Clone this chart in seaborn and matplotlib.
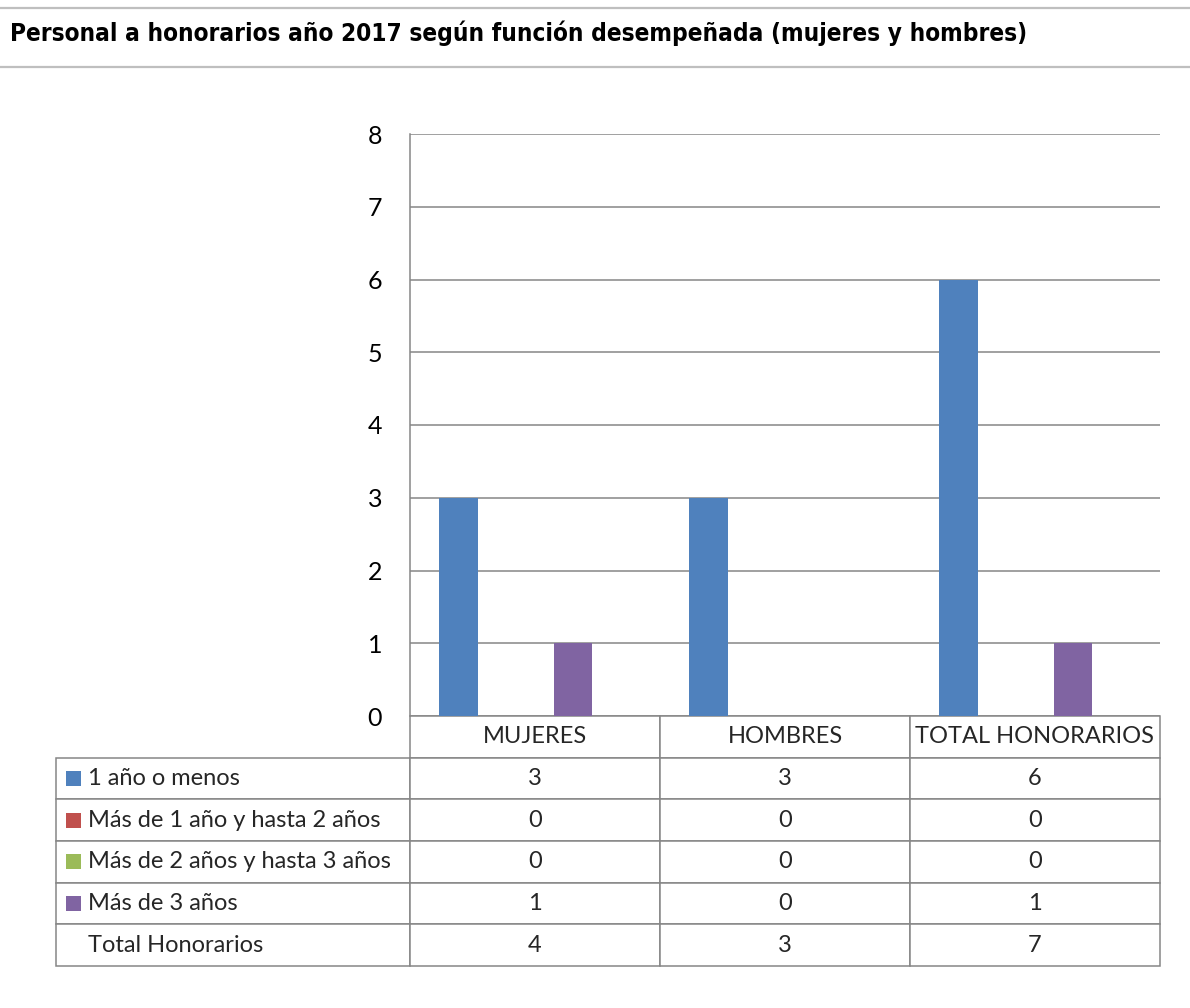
import pandas as pd
import matplotlib.pyplot as plt
import seaborn as sns
from matplotlib.lines import Line2D
from matplotlib.patches import Rectangle

categories = ["MUJERES", "HOMBRES", "TOTAL HONORARIOS"]
series = ["1 año o menos", "Más de 1 año y hasta 2 años",
          "Más de 2 años y hasta 3 años", "Más de 3 años", "Total Honorarios"]
hasta_1 = [3, 3, 6]
de_1_a_2 = [0, 0, 0]
de_2_a_3 = [0, 0, 0]
mas_de_3 = [1, 0, 1]
totales = [4, 3, 7]
colors = ["#4F81BD", "#C0504D", "#9BBB59", "#8064A2", "#FFFFFF"]
title = "Personal a honorarios año 2017 según función desempeñada (mujeres y hombres)"

values = [hasta_1, de_1_a_2, de_2_a_3, mas_de_3, totales]
rows = []
for s, vals in zip(series, values):
    for c, v in zip(categories, vals):
        rows.append({"categoria": c, "serie": s, "valor": v})
df = pd.DataFrame(rows)

sns.set_style("white")
plt.rcParams['font.family'] = ['Lato', 'DejaVu Sans']
grey = "#868686"

W, H = 1190, 1008
fig = plt.figure(figsize=(W / 100, H / 100), dpi=100)
ax = fig.add_axes([410 / W, 1 - 716 / H, 750 / W, (716 - 134) / H])

sns.barplot(data=df, x="categoria", y="valor", hue="serie", palette=colors,
            saturation=1, width=0.766, linewidth=0, legend=False, ax=ax)
# the total series is part of the chart but has no fill
for bar in ax.containers[-1]:
    bar.set_visible(False)
ax.set_xlim(-0.5, 2.5)
ax.set_ylim(0, 8)
ax.set_yticks(range(0, 9))
ax.set_xticks([])
ax.set_xlabel("")
ax.set_ylabel("")
ax.grid(axis="y", color=grey, linewidth=1.1)
ax.set_axisbelow(True)
for side in ["top", "right", "bottom"]:
    ax.spines[side].set_visible(False)
ax.spines["left"].set_color(grey)
ax.spines["left"].set_linewidth(1.1)
ax.tick_params(axis="y", length=0, pad=20, labelsize=18, labelcolor="black")

# data table below the plot
cell_text = []
for s, vals in zip(series, values):
    cell_text.append([s] + [str(v) for v in vals])
col_w = [354, 250, 250, 250]
tot_w = sum(col_w)
tab = ax.table(cellText=cell_text, colLabels=[""] + categories,
               colWidths=[w / tot_w for w in col_w],
               cellLoc="center",
               bbox=[-354 / 750, -250 / 582, tot_w / 750, 250 / 582])
tab.auto_set_font_size(False)
tab.set_fontsize(17)
for (r, c), cell in tab.get_celld().items():
    cell.set_edgecolor(grey)
    cell.set_linewidth(1.1)
    if r == 0 and c == 0:
        cell.visible_edges = ""
    if c == 0 and r > 0:
        cell._loc = "left"
        cell.PAD = 32 / 354
        cell.get_text().set_horizontalalignment("left")

# legend keys inside the table (none for the total row)
row_h = 250 / 6
for i, col in enumerate(colors[:4]):
    yc = 716 + row_h * (i + 1.5)
    ax.add_patch(Rectangle(((66 - 410) / 750, 1 - (yc + 7.5 - 134) / 582),
                           15 / 750, 15 / 582, transform=ax.transAxes,
                           facecolor=col, edgecolor="none", clip_on=False))

# title band
for y in [8, 67]:
    fig.add_artist(Line2D([0, 1], [1 - y / H, 1 - y / H], color="#bfbfbf",
                          linewidth=1.6, transform=fig.transFigure))
t = fig.text(10 / W, 1 - 33 / H, title, fontsize=22, fontweight="bold",
             fontstretch="condensed", family=['DejaVu Sans'],
             va="center", ha="left", color="black")
# shrink the title until it fits the width used in the original
renderer = fig.canvas.get_renderer()
size = 22
while t.get_window_extent(renderer).width > 1032 and size > 10:
    size -= 0.25
    t.set_fontsize(size)

fig.savefig("out.png", dpi=100)
